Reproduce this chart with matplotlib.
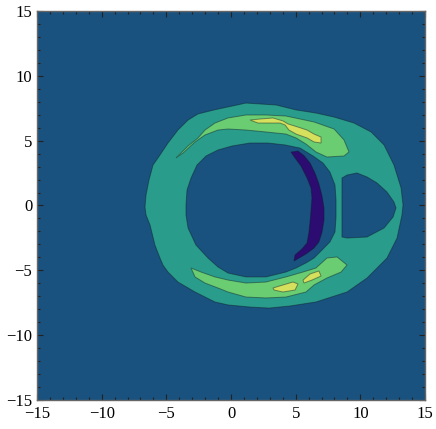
import matplotlib
matplotlib.use("Agg")
import matplotlib.pyplot as plt
from matplotlib.ticker import MultipleLocator

# ---- region outlines (data coordinates) ----
ring_outer = [(1.16, 7.90), (-0.23, 7.60), (-1.31, 7.37), (-2.55, 7.06), (-3.32, 6.59),
              (-4.10, 5.82), (-4.87, 4.82), (-5.64, 3.67), (-6.03, 3.12), (-6.34, 1.97),
              (-6.57, 0.81), (-6.65, -0.12), (-6.57, -0.73), (-6.26, -1.50), (-5.88, -3.05),
              (-5.49, -4.05), (-5.26, -4.59), (-4.87, -5.13), (-4.10, -5.90), (-2.78, -6.67),
              (-1.24, -7.44), (-0.23, -7.67), (1.47, -7.83), (2.94, -7.91), (4.56, -7.75),
              (6.57, -7.44), (8.97, -6.67), (10.52, -5.59), (12.06, -4.05), (12.84, -2.51),
              (13.22, -0.73), (13.30, 0.04), (13.15, 1.35), (12.60, 3.12), (11.83, 4.67),
              (10.83, 5.67), (9.51, 6.36), (7.97, 6.82), (6.57, 7.13), (5.03, 7.37), (3.48, 7.75)]

inner_hole = [(-3.48, 0.04), (-3.40, 1.20), (-3.09, 2.12), (-2.63, 3.12), (-1.93, 3.82),
              (-1.01, 4.28), (0.08, 4.59), (1.47, 4.82), (2.86, 4.82), (4.18, 4.67),
              (5.34, 4.43), (6.34, 3.82), (7.11, 3.28), (7.65, 2.58), (8.04, 1.58),
              (8.12, 0.42), (8.12, -0.89), (8.04, -2.04), (7.65, -2.81), (7.04, -3.43),
              (6.42, -4.05), (5.80, -4.43), (5.03, -4.82), (4.25, -5.13), (2.71, -5.51),
              (1.16, -5.51), (-0.23, -5.21), (-1.01, -4.74), (-1.78, -4.05), (-2.71, -3.05),
              (-3.32, -1.74), (-3.48, -0.73)]

side_hole = [(8.58, 2.12), (8.97, 2.35), (9.74, 2.51), (10.52, 2.20), (11.29, 1.74),
             (12.06, 1.04), (12.60, 0.27), (12.76, -0.19), (12.53, -0.89), (11.83, -1.74),
             (10.52, -2.43), (8.97, -2.51), (8.58, -2.43), (8.58, 0.42)]

upper_band = [(-4.25, 3.67), (-3.32, 4.59), (-2.55, 5.21), (-2.01, 5.82), (-1.24, 6.36),
              (-0.23, 6.75), (1.16, 6.98), (2.71, 6.98), (4.25, 6.90), (5.34, 6.67),
              (6.42, 6.44), (7.97, 5.90), (8.74, 5.05), (9.12, 4.13), (8.74, 3.82),
              (7.42, 3.74), (6.57, 4.13), (5.80, 4.74), (5.03, 5.21), (4.25, 5.51),
              (2.71, 5.67), (1.16, 5.82), (-0.23, 5.90), (-1.01, 5.82), (-2.01, 5.44),
              (-2.78, 4.90), (-3.71, 4.05)]

lower_band = [(-3.09, -4.82), (-2.32, -5.13), (-1.24, -5.51), (-0.23, -5.75), (1.16, -5.98),
              (2.71, -5.90), (4.25, -5.51), (5.57, -5.13), (6.57, -4.82), (7.42, -4.05),
              (8.20, -3.97), (8.97, -4.59), (8.51, -5.13), (7.42, -5.59), (6.42, -6.13),
              (5.80, -6.67), (4.25, -7.06), (2.71, -7.13), (1.16, -7.06), (-0.23, -6.67),
              (-1.01, -6.36), (-2.01, -5.98), (-2.78, -5.51)]

upper_peak = [(1.47, 6.59), (2.24, 6.67), (3.25, 6.75), (4.02, 6.52), (4.41, 6.29),
              (5.18, 6.05), (5.88, 5.82), (6.42, 5.51), (6.96, 5.28), (6.96, 4.82),
              (6.42, 4.90), (5.88, 5.21), (5.03, 5.51), (4.48, 5.82), (4.18, 6.21),
              (3.79, 6.36), (3.02, 6.36), (2.09, 6.36)]

lower_peak_a = [(3.25, -6.36), (4.02, -6.13), (4.79, -5.90), (5.18, -6.05), (4.95, -6.52),
                (4.02, -6.67), (3.33, -6.52)]

lower_peak_b = [(5.57, -5.75), (6.11, -5.28), (6.80, -5.05), (6.96, -5.44), (6.26, -5.75),
                (5.64, -5.98)]

trough = [(4.64, 4.12), (5.18, 4.20), (5.64, 3.85), (6.11, 3.28), (6.49, 2.51), (6.80, 1.66),
          (7.04, 0.73), (7.19, -0.19), (7.19, -1.12), (7.04, -2.04), (6.80, -2.81),
          (6.42, -3.28), (5.80, -3.74), (5.26, -4.05), (4.87, -4.28), (4.95, -3.82),
          (5.49, -3.35), (5.88, -2.89), (6.03, -2.04), (6.11, -1.28), (6.19, -0.35),
          (6.26, 0.58), (6.19, 1.35), (5.88, 2.12), (5.41, 3.05), (4.95, 3.67)]

ticks_major = [-15, -10, -5, 0, 5, 10, 15]

# ---- level colours ----
c_purple = "#2c0c70"
c_blue = "#19517f"
c_teal = "#2a9c8b"
c_green = "#6acd72"
c_yellow = "#d5e05c"
edge = (0.05, 0.1, 0.15, 0.45)

layers = [
    (ring_outer, c_teal),
    (inner_hole, c_blue),
    (side_hole, c_blue),
    (upper_band, c_green),
    (lower_band, c_green),
    (upper_peak, c_yellow),
    (lower_peak_a, c_yellow),
    (lower_peak_b, c_yellow),
    (trough, c_purple),
]

plt.rcParams['font.family'] = ['Liberation Serif', 'DejaVu Serif']
fig = plt.figure(figsize=(4.36, 4.29), dpi=100)
ax = fig.add_axes([37 / 436, 1 - 400 / 429, 388 / 436, 389 / 429])
ax.set_facecolor(c_blue)

for poly, col in layers:
    xs = [p[0] for p in poly]
    ys = [p[1] for p in poly]
    ax.fill(xs, ys, facecolor=col, edgecolor=edge, linewidth=0.7, zorder=2)

ax.set_xlim(-15, 15)
ax.set_ylim(-15, 15)
ax.set_xticks(ticks_major)
ax.set_yticks(ticks_major)
ax.set_xticklabels([str(t).replace('-', '\u2212') for t in ticks_major])
ax.set_yticklabels([str(t).replace('-', '\u2212') for t in ticks_major])
ax.xaxis.set_minor_locator(MultipleLocator(1))
ax.yaxis.set_minor_locator(MultipleLocator(1))
ax.tick_params(which='both', direction='in', top=True, right=True, color='#222222',
               width=0.8, labelsize=12, labelcolor='black', zorder=5)
ax.tick_params(axis='x', which='major', pad=4)
ax.tick_params(axis='y', which='major', pad=3.5)
ax.tick_params(which='major', length=4.5)
ax.tick_params(which='minor', length=2.5)
for s in ax.spines.values():
    s.set_color('#666666')
    s.set_linewidth(1.0)
    s.set_zorder(6)

fig.savefig('out.png', dpi=100)
